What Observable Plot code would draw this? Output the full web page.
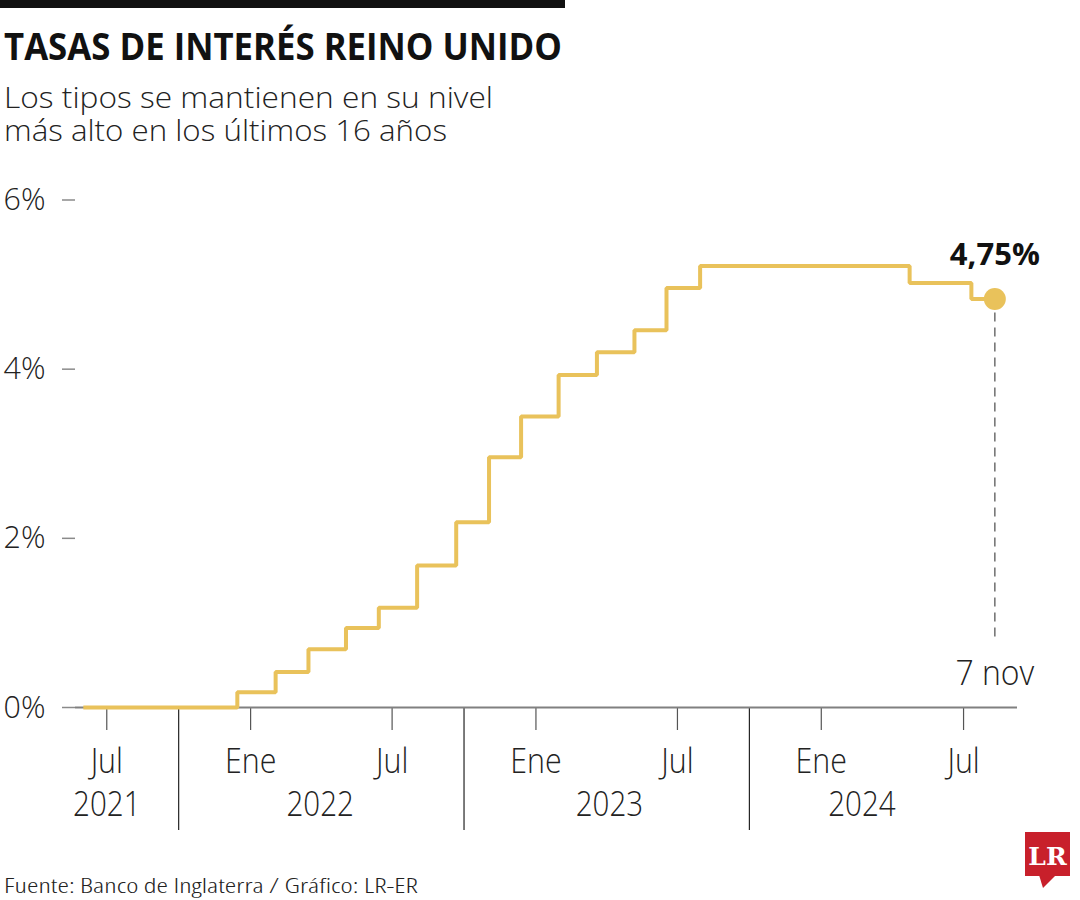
<!DOCTYPE html>
<html>
<head>
<meta charset="utf-8">
<script src="https://cdn.jsdelivr.net/npm/d3@7"></script>
<script src="https://cdn.jsdelivr.net/npm/@observablehq/plot@0.6"></script>
<style>
  html, body { margin: 0; padding: 0; background: #fff; }
  body { width: 1080px; height: 900px; overflow: hidden; font-family: "Open Sans", sans-serif; }
  svg text { font-family: "Open Sans", sans-serif; }
  #header, #footer { display: block; }
</style>
</head>
<body>
<svg id="header" width="1080" height="170">
  <rect x="0" y="0" width="565" height="8" fill="#111"></rect>
  <text x="4" y="60" font-size="37" font-weight="700" fill="#111" textLength="558" lengthAdjust="spacingAndGlyphs">TASAS DE INTERÉS REINO UNIDO</text>
  <text x="4" y="108" font-size="30" font-weight="300" fill="#222" textLength="489" lengthAdjust="spacingAndGlyphs">Los tipos se mantienen en su nivel</text>
  <text x="4" y="141" font-size="30" font-weight="300" fill="#222" textLength="443" lengthAdjust="spacingAndGlyphs">más alto en los últimos 16 años</text>
</svg>
<div id="chart"></div>
<svg id="footer" width="1080" height="70">
  <text x="4" y="63" font-size="21" font-weight="300" fill="#222" textLength="414" lengthAdjust="spacingAndGlyphs" style="font-stretch:80%">Fuente: Banco de Inglaterra / Gráfico: LR-ER</text>
  <rect x="1025" y="2" width="45" height="44" fill="#c8202b"></rect>
  <polygon points="1039,45 1056,45 1043,58" fill="#c8202b"></polygon>
  <text x="1047.5" y="35" font-size="25" font-weight="700" fill="#fff" text-anchor="middle" style="font-family:'DejaVu Serif','Liberation Serif',serif">LR</text>
</svg>
<script>
// ---- Data ----
const rateDates = ["2021-06-01","2021-12-15","2022-02-02","2022-03-16","2022-05-03","2022-06-14","2022-08-02","2022-09-21","2022-11-02","2022-12-13","2023-01-30","2023-03-20","2023-05-07","2023-06-17","2023-07-30","2024-04-23","2024-07-11","2024-08-10"];
const rateValues = [0, 0.18, 0.42, 0.69, 0.94, 1.18, 1.68, 2.19, 2.96, 3.44, 3.93, 4.20, 4.46, 4.96, 5.22, 5.02, 4.83, 4.83];

const monthTickDates = ["2021-07-01","2022-01-01","2022-07-01","2023-01-01","2023-07-01","2024-01-01","2024-07-01"];
const monthTickLabels = ["Jul","Ene","Jul","Ene","Jul","Ene","Jul"];
const yearLabelDates = ["2021-07-01","2022-03-31","2023-04-05","2024-02-22"];
const yearLabels = ["2021","2022","2023","2024"];
const yearSeparatorDates = ["2021-10-01","2022-10-01","2023-10-01"];
const yTicks = [0, 2, 4, 6];
const yTickLabels = ["0%","2%","4%","6%"];
const lastValueLabel = "4,75%";
const lastDateLabel = "7 nov";
const xDomain = ["2021-05-22","2024-09-08"];

// ---- Build tables ----
const parse = d3.utcParse("%Y-%m-%d");
const series = rateDates.map((d, i) => ({date: parse(d), rate: rateValues[i]}));
const last = [series[series.length - 1]];
const monthTicks = monthTickDates.map(parse);
const yearRows = yearLabelDates.map((d, i) => ({date: parse(d), label: yearLabels[i]}));
const separators = yearSeparatorDates.map(parse);
const monthRows = monthTickDates.map((d, i) => ({date: parse(d), label: monthTickLabels[i]}));
const yRows = yTicks.map((v, i) => ({v, label: yTickLabels[i]}));

const gold = "#e9c25b";
const ink = "#222";

const chart = Plot.plot({
  width: 1080,
  height: 660,
  marginLeft: 75,
  marginRight: 63,
  marginTop: 29.5,
  marginBottom: 123,
  style: {fontFamily: "'Open Sans', sans-serif", background: "#fff", overflow: "visible"},
  x: {type: "utc", domain: xDomain.map(parse)},
  y: {domain: [0, 6]},
  marks: [
    // y tick dashes
    Plot.axisY({ticks: yTicks, tickSize: 13, tickFormat: () => "", stroke: "#8a8a8a", strokeWidth: 1.5}),
    // y labels
    Plot.text(yRows, {y: "v", text: "label", frameAnchor: "left", dx: -30, dy: 10, textAnchor: "end", lineAnchor: "bottom", fontSize: 32, fontWeight: 300, fill: ink}),
    // month ticks and year separators
    Plot.axisX({ticks: monthTicks, tickSize: 23, tickFormat: () => "", stroke: "#555", strokeWidth: 1.2}),
    Plot.axisX({ticks: separators, tickSize: 123, tickFormat: () => "", stroke: "#111", strokeWidth: 1.1}),
    // month & year labels
    Plot.text(monthRows, {x: "date", text: "label", frameAnchor: "bottom", dy: 65.5, lineAnchor: "bottom", fontSize: 34.5, fontWeight: 300, fill: ink}),
    Plot.text(yearRows, {x: "date", text: "label", frameAnchor: "bottom", dy: 108.5, lineAnchor: "bottom", fontSize: 34, fontWeight: 300, fill: ink}),
    // baseline
    Plot.ruleY([0], {stroke: "#808080", strokeWidth: 2}),
    // dashed leader
    Plot.ruleX(last, {x: "date", y1: "rate", y2: 0, insetTop: 14, insetBottom: 65, stroke: "#777", strokeWidth: 1.6, strokeDasharray: "9,6"}),
    // step line
    Plot.line(series, {x: "date", y: "rate", curve: "step-after", stroke: gold, strokeWidth: 4, strokeLinejoin: "miter", strokeLinecap: "butt"}),
    Plot.dot(last, {x: "date", y: "rate", r: 11, fill: gold, stroke: null}),
    Plot.text(last, {x: "date", y: "rate", text: () => lastValueLabel, dy: -44, lineAnchor: "middle", fontSize: 31, fontWeight: 700, fill: "#111"}),
    Plot.text(last, {x: "date", text: () => lastDateLabel, frameAnchor: "bottom", dy: -23, lineAnchor: "bottom", fontSize: 34, fontWeight: 300, fill: ink})
  ]
});
document.getElementById("chart").appendChild(chart);

// narrow the light labels to the reference's condensed letterforms
const squeeze = new Map([
  ...monthTickLabels.map(l => [l, 0.88]),
  ...yearLabels.map(l => [l, 0.87]),
  ...yTickLabels.map(l => [l, 0.95]),
  [lastDateLabel, 0.94]
]);
chart.querySelectorAll("text").forEach((t) => {
  const k = squeeze.get(t.textContent.trim());
  if (k) {
    const w = t.getComputedTextLength();
    t.setAttribute("textLength", (w * k).toFixed(1));
    t.setAttribute("lengthAdjust", "spacingAndGlyphs");
  }
});
</script>
</body>
</html>
